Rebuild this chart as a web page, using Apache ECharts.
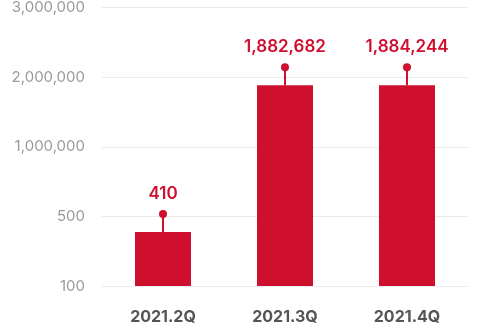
<!DOCTYPE html>
<html>
<head>
<meta charset="utf-8">
<script src="https://cdn.jsdelivr.net/npm/echarts@6/dist/echarts.min.js"></script>
<style>html,body{margin:0;padding:0;background:#fff}#c{width:480px;height:326px}</style>
</head>
<body>
<div id="c"></div>
<script>
const categories = ['2021.2Q', '2021.3Q', '2021.4Q'];
const values = [410, 1882682, 1884244];
const tickValues = [100, 500, 1000000, 2000000, 3000000];
const tickLabels = ['100', '500', '1,000,000', '2,000,000', '3,000,000'];

const RED = '#cf0f2e';
const FONT = 'Inter, Roboto, sans-serif';

// Piecewise-linear mapping of a value onto evenly spaced tick slots
function toSlot(v) {
  for (let i = 0; i < tickValues.length - 1; i++) {
    const a = tickValues[i], b = tickValues[i + 1];
    if (v <= b) return i + Math.max(0, (v - a) / (b - a));
  }
  return tickValues.length - 1;
}
const slots = values.map(toSlot);
const fmt = v => v.toLocaleString('en-US');

const chart = echarts.init(document.getElementById('c'), null, {renderer: 'canvas'});
chart.setOption({
  animation: false,
  grid: {left: 102, right: 12, top: 6, bottom: 40},
  xAxis: {
    type: 'category',
    data: categories,
    axisLine: {show: false},
    axisTick: {show: false},
    axisLabel: {color: '#555', fontSize: 16, fontWeight: 'bold', fontFamily: FONT, margin: 23}
  },
  yAxis: {
    type: 'value',
    min: 0, max: tickValues.length - 1, interval: 1,
    axisLine: {show: false},
    axisTick: {show: false},
    splitLine: {lineStyle: {color: '#ebebeb', width: 1}},
    axisLabel: {
      color: '#9a9a9a', fontSize: 15, fontFamily: FONT, margin: 17,
      formatter: v => tickLabels[Math.round(v)] || ''
    }
  },
  series: [
    {
      type: 'bar',
      data: slots,
      barWidth: 56,
      itemStyle: {color: RED}
    },
    {
      type: 'custom',
      data: slots.map((s, i) => [i, s, values[i]]),
      z: 5,
      renderItem: function (params, api) {
        const p = api.coord([api.value(0), api.value(1)]);
        const x = p[0], y = p[1];
        const cy = y - 18;
        return {
          type: 'group',
          children: [
            {type: 'line', shape: {x1: x, y1: y, x2: x, y2: cy}, style: {stroke: RED, lineWidth: 2}},
            {type: 'circle', shape: {cx: x, cy: cy, r: 4}, style: {fill: RED}},
            {type: 'text', x: x, y: cy - 20, style: {
              text: fmt(api.value(2)), fill: RED, font: '600 17px ' + FONT,
              align: 'center', verticalAlign: 'middle'
            }}
          ]
        };
      }
    }
  ]
});
</script>
</body>
</html>
